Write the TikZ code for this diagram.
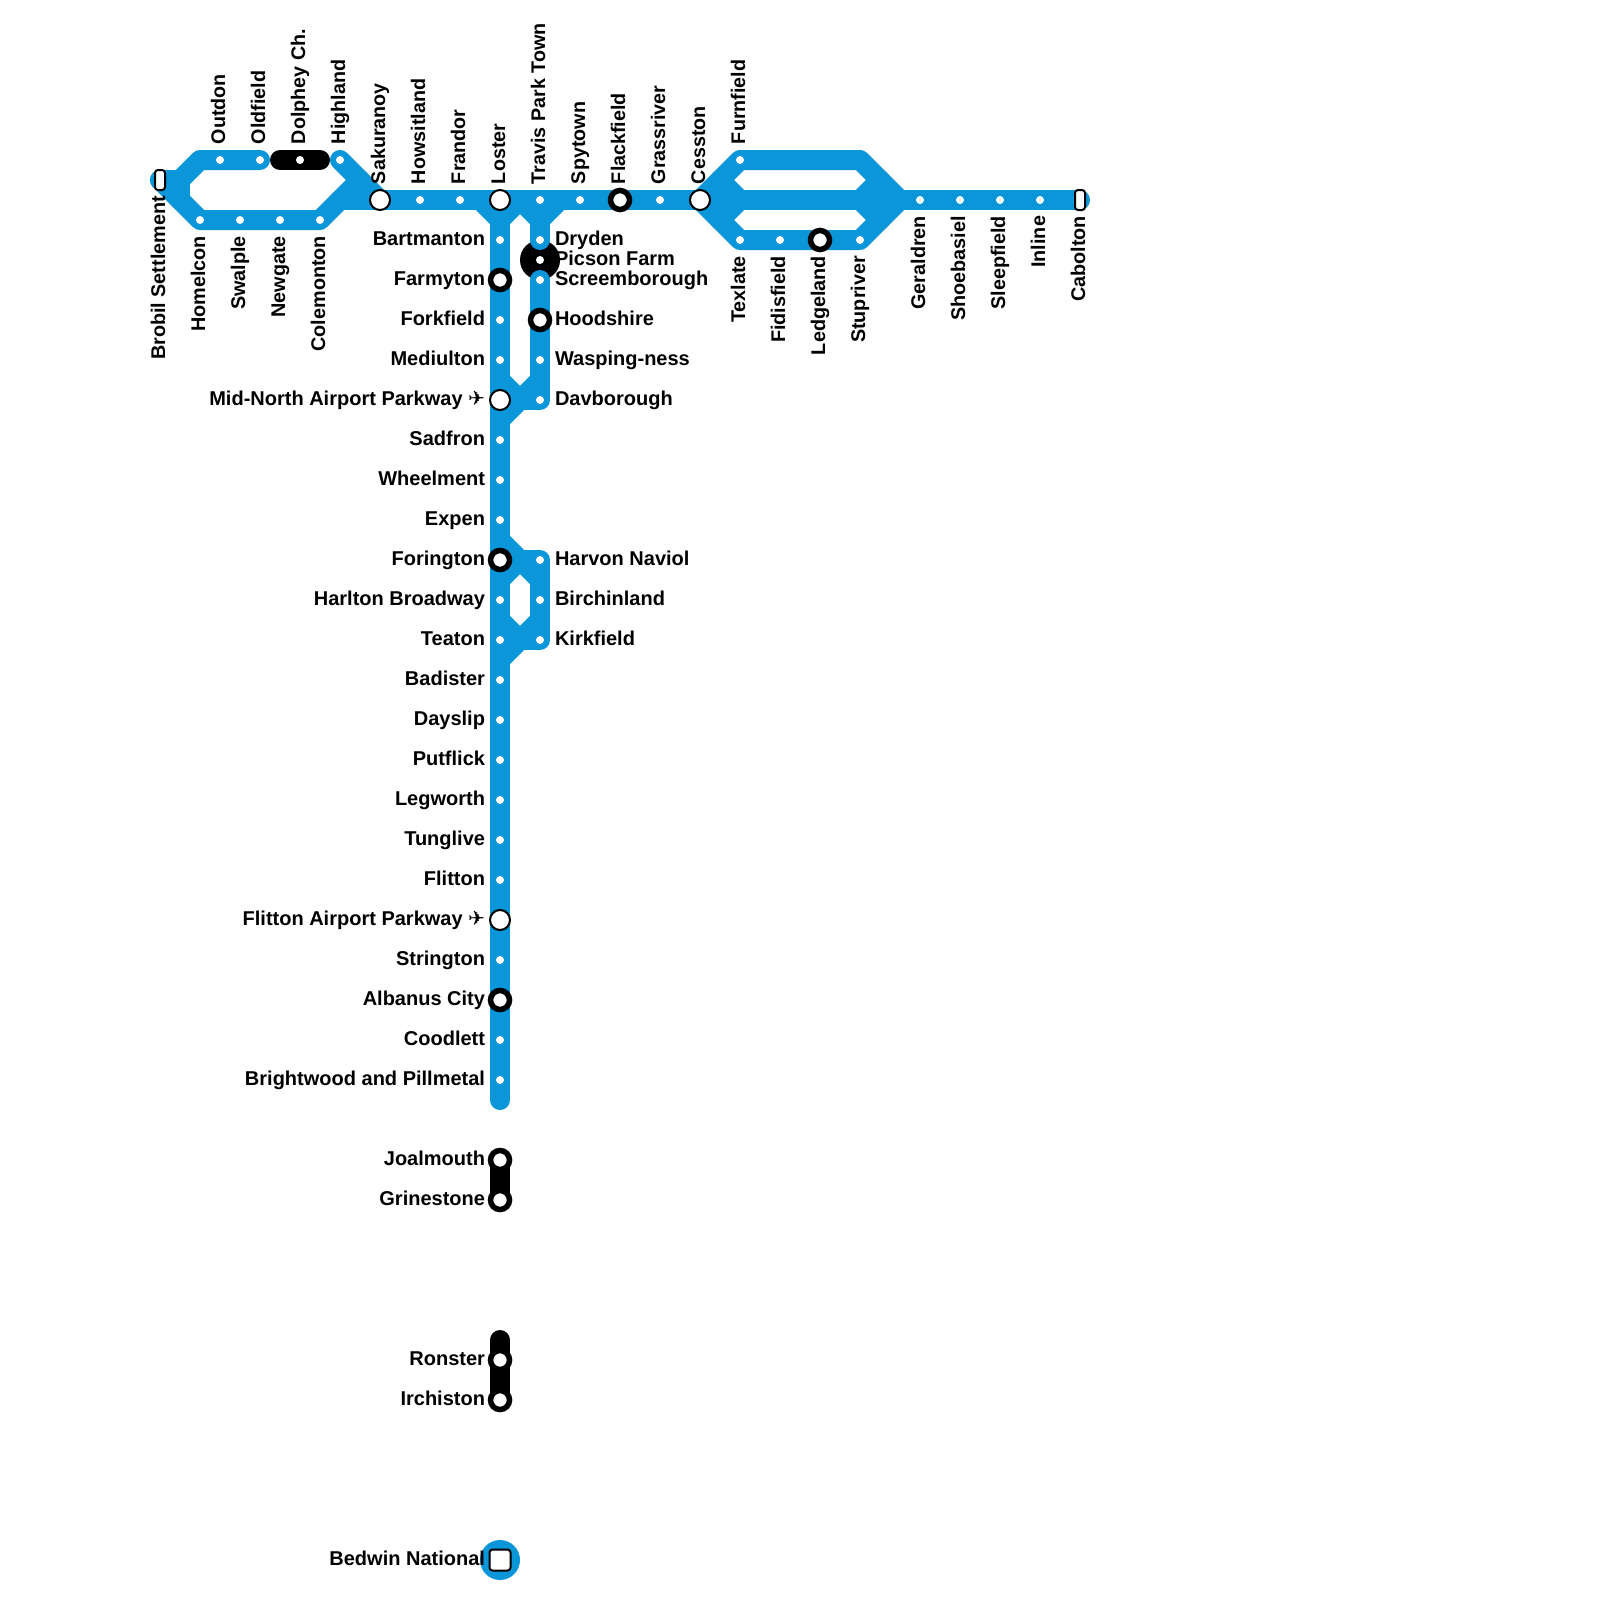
\documentclass[tikz,border=0pt]{standalone}
\usepackage{fontspec}
\setmainfont{Liberation Sans}
\newfontfamily\planefont{DejaVu Sans}
\usetikzlibrary{backgrounds}
\definecolor{mtblue}{HTML}{0A96D8}

\begin{document}
\begin{tikzpicture}[x=1pt, y=-1pt, font=\fontsize{20}{24}\selectfont\bfseries, every node/.style={inner sep=0pt, outer sep=0pt},
          halt/.style={circle, fill=white, minimum size=8pt},
          hub/.style={circle, draw=black, line width=2pt, fill=white, minimum size=20pt},
          ring/.style={circle, draw=black, line width=5.5pt, fill=white, minimum size=19pt},
          endst/.style={rectangle, draw=black, line width=2pt, fill=white, rounded corners=3pt, minimum width=10pt, minimum height=20pt},
          bigst/.style={rectangle, draw=black, line width=2pt, fill=white, rounded corners=3pt, minimum size=21pt},
          lbup/.style={xshift=5pt, yshift=16pt, rotate=90, scale=.985, anchor=base west},
          lbdn/.style={xshift=5pt, yshift=-16pt, rotate=90, scale=.99, anchor=base east},
          lbl/.style={xshift=-15pt, yshift=-5.5pt, anchor=base east},
          lbr/.style={xshift=15pt, yshift=-5.5pt, anchor=base west},
          bl/.style={draw=mtblue, line width=20pt, line cap=round, line join=round},
          bk/.style={draw=black, line width=20pt, line cap=round, line join=round}]
          \useasboundingbox (0,0) rectangle (1600,1600);
          % stations
          \foreach \nm/\x/\y/\lab/\sd/\kd in {
            brobil/160/180/Brobil Settlement/lbdn/endst,
            outdon/220/160/Outdon/lbup/halt, oldfield/260/160/Oldfield/lbup/halt,
            dolphey/300/160/Dolphey Ch./lbup/halt, highland/340/160/Highland/lbup/halt,
            homelcon/200/220/Homelcon/lbdn/halt, swalple/240/220/Swalple/lbdn/halt,
            newgate/280/220/Newgate/lbdn/halt, colemonton/320/220/Colemonton/lbdn/halt,
            sakuranoy/380/200/Sakuranoy/lbup/hub, howsitland/420/200/Howsitland/lbup/halt,
            frandor/460/200/Frandor/lbup/halt, loster/500/200/Loster/lbup/hub,
            travis/540/200/Travis Park Town/lbup/halt, spytown/580/200/Spytown/lbup/halt,
            flackfield/620/200/Flackfield/lbup/ring, grassriver/660/200/Grassriver/lbup/halt,
            cesston/700/200/Cesston/lbup/hub, furnfield/740/160/Furnfield/lbup/halt,
            texlate/740/240/Texlate/lbdn/halt, fidisfield/780/240/Fidisfield/lbdn/halt,
            ledgeland/820/240/Ledgeland/lbdn/ring, stupriver/860/240/Stupriver/lbdn/halt,
            geraldren/920/200/Geraldren/lbdn/halt, shoebasiel/960/200/Shoebasiel/lbdn/halt,
            sleepfield/1000/200/Sleepfield/lbdn/halt, inline/1040/200/Inline/lbdn/halt,
            cabolton/1080/200/Cabolton/lbdn/endst,
            bartmanton/500/240/Bartmanton/lbl/halt, farmyton/500/280/Farmyton/lbl/ring,
            forkfield/500/320/Forkfield/lbl/halt, mediulton/500/360/Mediulton/lbl/halt,
            midnorth/500/400/Mid-North Airport Parkway {\planefont ✈}/lbl/hub,
            sadfron/500/440/Sadfron/lbl/halt, wheelment/500/480/Wheelment/lbl/halt,
            expen/500/520/Expen/lbl/halt, forington/500/560/Forington/lbl/ring,
            harlton/500/600/Harlton Broadway/lbl/halt, teaton/500/640/Teaton/lbl/halt,
            badister/500/680/Badister/lbl/halt, dayslip/500/720/Dayslip/lbl/halt,
            putflick/500/760/Putflick/lbl/halt, legworth/500/800/Legworth/lbl/halt,
            tunglive/500/840/Tunglive/lbl/halt, flitton/500/880/Flitton/lbl/halt,
            flittonap/500/920/Flitton Airport Parkway {\planefont ✈}/lbl/hub,
            stringto/500/960/Strington/lbl/halt, albanus/500/1000/Albanus City/lbl/ring,
            coodlett/500/1040/Coodlett/lbl/halt, brightwood/500/1080/Brightwood and Pillmetal/lbl/halt,
            joalmouth/500/1160/Joalmouth/lbl/ring, grinestone/500/1200/Grinestone/lbl/ring,
            ronster/500/1360/Ronster/lbl/ring, irchiston/500/1400/Irchiston/lbl/ring,
            bedwin/500/1560/Bedwin National/lbl/bigst,
            dryden/540/240/Dryden/lbr/halt, picson/540/260/Picson Farm/lbr/halt,
            screem/540/280/Screemborough/lbr/halt, hoodshire/540/320/Hoodshire/lbr/ring,
            wasping/540/360/Wasping-ness/lbr/halt, davborough/540/400/Davborough/lbr/halt,
            harvon/540/560/Harvon Naviol/lbr/halt, birchinland/540/600/Birchinland/lbr/halt,
            kirkfield/540/640/Kirkfield/lbr/halt} {
            \node[\kd] (\nm) at (\x,\y) {};
            \node[\sd] (t\nm) at (\nm.center) {\lab};}
          % junctions between the drawn lines
          \foreach \nm/\x/\y in {ja/180/180, jb/200/160, jc/180/200, jd/340/200, jm/360/180,
            je/860/160, jf/900/200, jg/720/180, jh/740/200, ji/720/220, jj/880/180, jk/860/200, jl/880/220,
            lsa/480/200, lsb/500/220, lsc/520/200, lsd/540/220, lse/560/200,
            mna/500/380, mnb/520/400, mnc/500/420, mnd/540/380,
            fra/500/540, frb/520/560, frc/500/580, frd/540/580,
            tea/500/620, teb/520/640, tec/500/660, ted/540/620,
            trunkend/500/1100, rontop/500/1340, dola/280/160, dolb/320/160}
            \coordinate (\nm) at (\x,\y);
          \begin{scope}[on background layer]
            \fill[black] (picson.center) circle (20pt);
            % west loop
            \draw[bl] (brobil.center)--(ja)--(jb)--(oldfield.center);
            \draw[bl] (ja)--(jc);
            \draw[bl] (brobil.center)--(homelcon.center)--(colemonton.center)--(jm);
            \draw[bl] (jd)--(sakuranoy.center);
            \draw[bl] (highland.center)--(sakuranoy.center);
            \draw[bk] (dola)--(dolb);
            % main line and east loop
            \draw[bl] (sakuranoy.center)--(cabolton.center);
            \draw[bl] (cesston.center)--(furnfield.center)--(je)--(jf);
            \draw[bl] (cesston.center)--(texlate.center)--(stupriver.center)--(jf);
            \draw[bl] (jg)--(jh)--(ji);
            \draw[bl] (jj)--(jk)--(jl);
            % trunk
            \draw[bl] (lsa)--(lsb)--(lsc)--(lsd)--(lse);
            \draw[bl] (loster.center)--(trunkend);
            \draw[bl] (lsd)--(dryden.center);
            \draw[bl] (screem.center)--(davborough.center)--(midnorth.center);
            \draw[bl] (mna)--(mnb)--(mnc);
            \draw[bl] (mnd)--(mnb);
            \draw[bl] (fra)--(frb)--(frd);
            \draw[bl] (frc)--(frb);
            \draw[bl] (forington.center)--(harvon.center)--(kirkfield.center)--(teaton.center);
            \draw[bl] (tea)--(teb)--(tec);
            \draw[bl] (ted)--(teb);
            % detached pieces
            \draw[bk] (joalmouth.center)--(grinestone.center);
            \draw[bk] (rontop)--(irchiston.center);
            \fill[mtblue] (bedwin.center) circle (20pt);
          \end{scope}
        \end{tikzpicture}
\end{document}
